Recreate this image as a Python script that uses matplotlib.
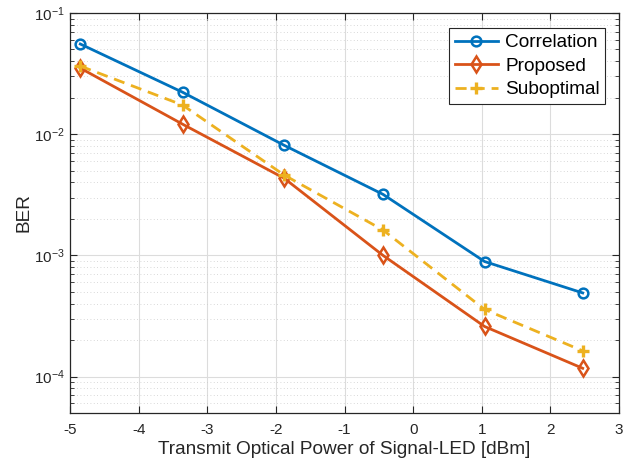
import numpy as np
import matplotlib
matplotlib.use('Agg')
import matplotlib.pyplot as plt
from matplotlib.ticker import LogLocator, FixedLocator, NullFormatter

plt.rcParams['font.family'] = ['Liberation Sans', 'DejaVu Sans']
plt.rcParams['mathtext.fontset'] = 'custom'
plt.rcParams['mathtext.rm'] = 'Liberation Sans'
plt.rcParams['mathtext.it'] = 'Liberation Sans'
plt.rcParams['mathtext.default'] = 'regular'
plt.rcParams['axes.unicode_minus'] = False

power = [-4.85, -3.36, -1.88, -0.44, 1.04, 2.47]
ber_corr = [0.0555, 0.0222, 0.0081, 0.00319, 0.00089, 0.00049]
ber_prop = [0.0351, 0.0121, 0.00433, 0.00100, 0.000259, 0.000117]
ber_subopt = [0.0365, 0.0174, 0.0046, 0.00162, 0.000358, 0.000163]

c_blue = '#0072BD'
c_red = '#D95319'
c_yel = '#EDB120'
dark = '#262626'

fig = plt.figure(figsize=(6.33, 4.65), dpi=100)
ax = fig.add_axes([0.1106, 0.112, 0.8674, 0.860])

ax.semilogy(power, ber_corr, '-o', color=c_blue, lw=2, ms=7, mew=1.8,
            mfc='none', label='Correlation')
ax.semilogy(power, ber_prop, '-d', color=c_red, lw=2, ms=8, mew=1.8,
            mfc='none', label='Proposed')
ax.semilogy(power, ber_subopt, '--+', color=c_yel, lw=2, ms=8, mew=2.4,
            dashes=(4, 2.5), label='Suboptimal')

ax.set_xlim(-5, 3)
ax.set_ylim(10**-4.3, 1e-1)
ax.xaxis.set_major_locator(FixedLocator(np.arange(-5, 4, 1)))
ax.yaxis.set_major_locator(LogLocator(base=10, numticks=10))
ax.yaxis.set_minor_locator(LogLocator(base=10, subs=np.arange(2, 10), numticks=10))
ax.yaxis.set_minor_formatter(NullFormatter())

ax.grid(True, which='major', color='#dcdcdc', lw=0.8, ls='-')
ax.grid(True, which='minor', axis='y', color='#cccccc', lw=0.6, ls=(0, (1, 3)))
ax.set_axisbelow(True)

ax.tick_params(which='both', direction='in', top=True, right=True,
               colors=dark, labelsize=11, labelcolor=dark)
ax.tick_params(which='major', length=5, width=0.8)
ax.tick_params(which='minor', length=3, width=0.6)
ax.tick_params(axis='x', pad=7)
for s in ax.spines.values():
    s.set_color(dark)
    s.set_linewidth(0.9)

ax.set_xlabel('Transmit Optical Power of Signal-LED [dBm]', fontsize=13.7, color=dark,
              labelpad=3)
ax.set_ylabel('BER', fontsize=13.7, color=dark, labelpad=1)

leg = ax.legend(loc='upper right', bbox_to_anchor=(0.975, 0.962), fontsize=13.7,
                fancybox=False, framealpha=1, edgecolor=dark, handlelength=2.3,
                handletextpad=0.35, borderpad=0.3, labelspacing=0.33, borderaxespad=0)
leg.get_frame().set_linewidth(0.8)

fig.savefig('out.png', dpi=100)
